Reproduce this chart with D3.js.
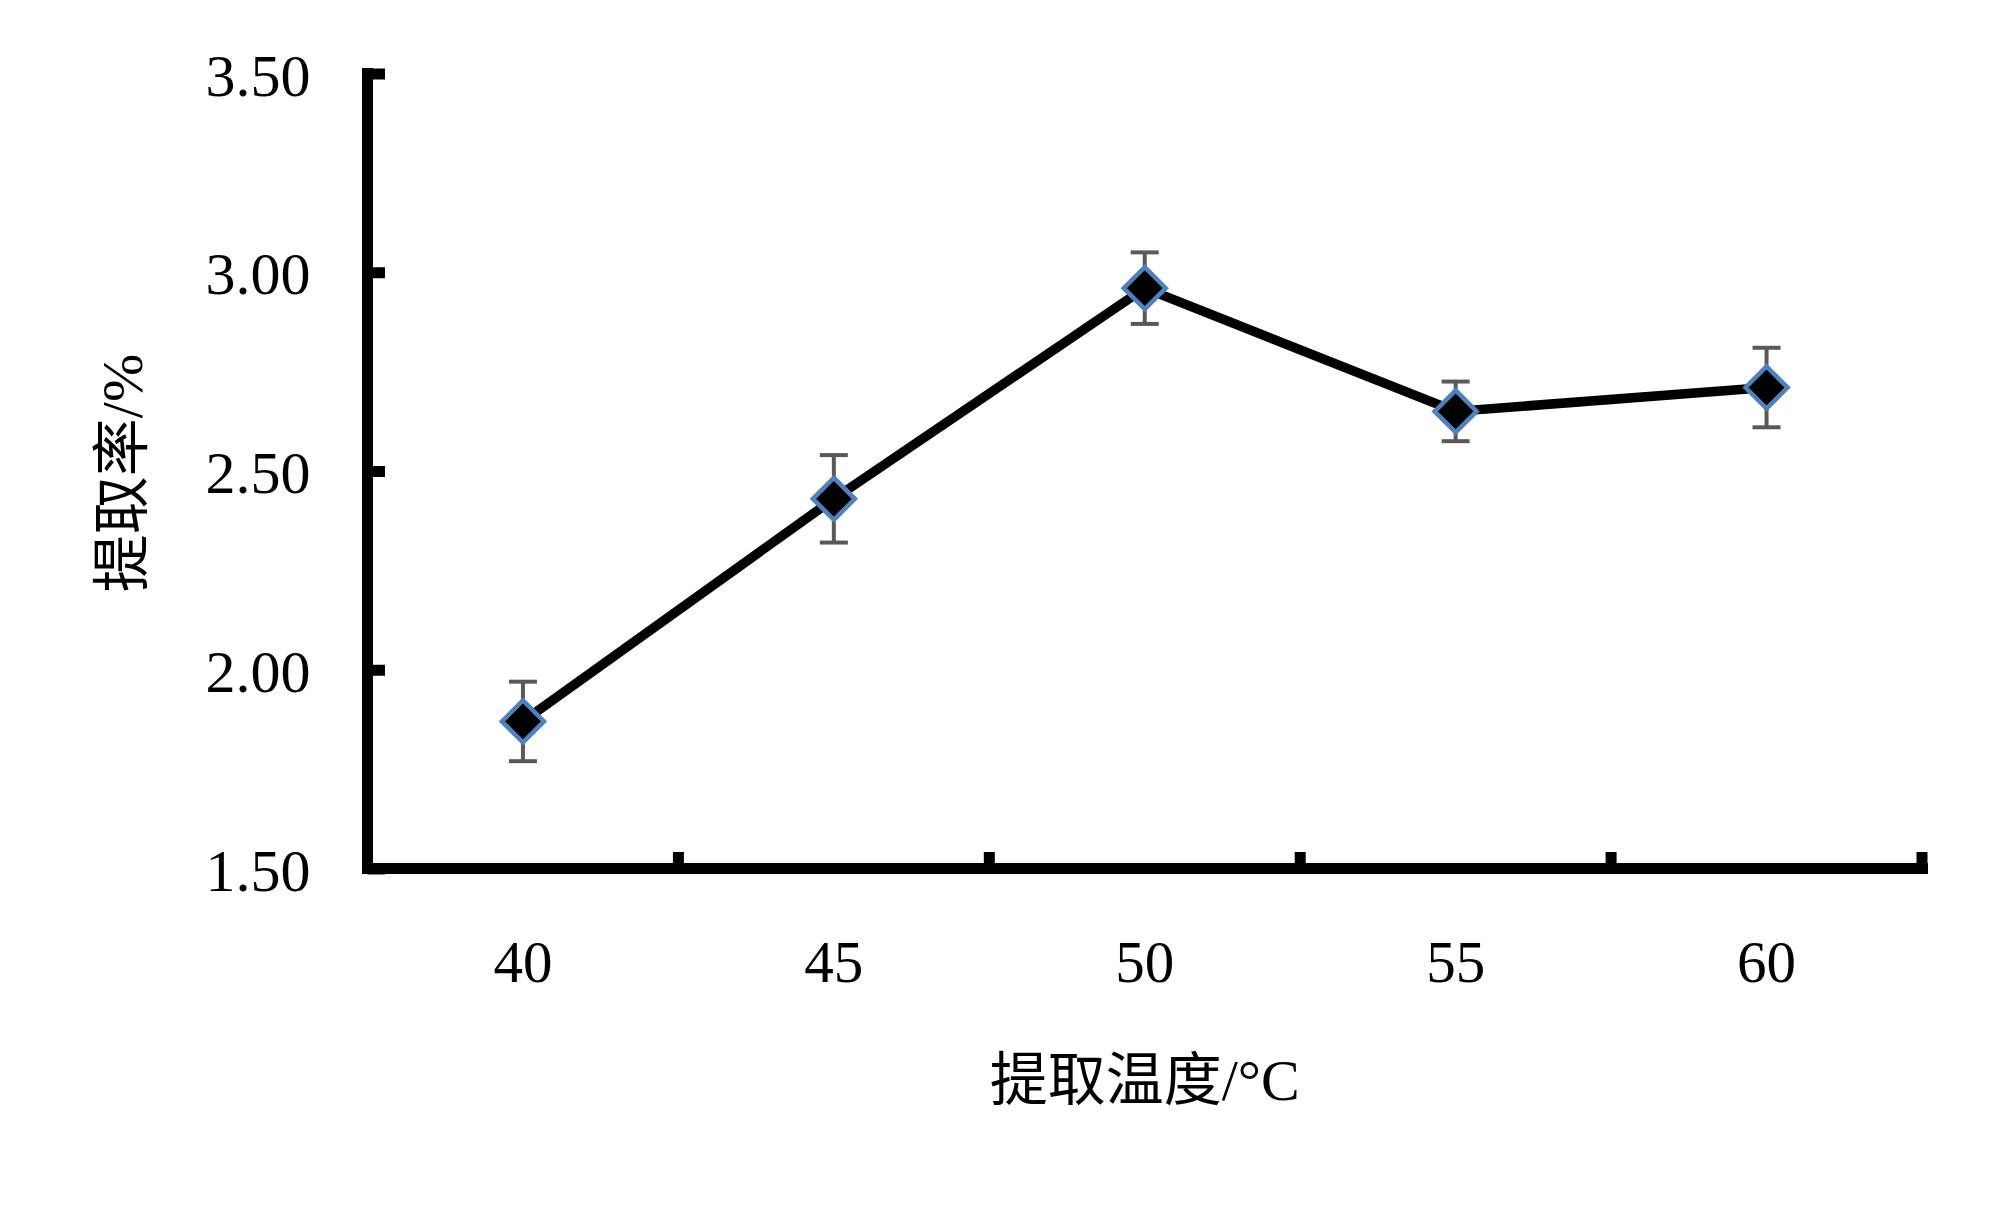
<!DOCTYPE html>
<html lang="zh">
<head>
  <meta charset="utf-8">
  <title>提取温度与提取率</title>
  <script src="https://d3js.org/d3.v7.min.js"></script>
  <style>
    html, body { margin: 0; padding: 0; background: #fff; }
    svg text { font-family: "Liberation Serif", "Times New Roman", "Noto Sans CJK SC", serif; fill: #000; }
  </style>
</head>
<body>
  <div id="chart"></div>
  <script>
    // data
    var temps = ["40", "45", "50", "55", "60"];
    var rates = [1.87, 2.43, 2.96, 2.65, 2.71];
    var errors = [0.10, 0.11, 0.09, 0.075, 0.10];
    var yTicks = [1.5, 2.0, 2.5, 3.0, 3.5];

    var width = 2000, height = 1210;
    var plotLeft = 367.5, plotRight = 1922, plotTop = 73.5, plotBottom = 868.5;
    var axisW = 11;

    var svg = d3.select("#chart")
      .append("svg")
      .attr("width", width)
      .attr("height", height);

    svg.append("rect").attr("width", width).attr("height", height).attr("fill", "#fff");

    var x = d3.scaleBand()
      .domain(temps)
      .range([plotLeft, plotRight])
      .padding(0);

    var y = d3.scaleLinear()
      .domain([1.5, 3.5])
      .range([plotBottom, plotTop]);

    var cx = function (d, i) { return x(temps[i]) + x.bandwidth() / 2; };

    // Y axis
    var yAxis = svg.append("g")
      .attr("transform", "translate(" + plotLeft + ",0)")
      .call(d3.axisLeft(y).tickValues(yTicks).tickSize(-17.5).tickPadding(0)
        .tickFormat(d3.format(".2f")));
    yAxis.select(".domain").remove();
    yAxis.selectAll(".tick line").attr("stroke", "#000").attr("stroke-width", axisW);
    yAxis.selectAll(".tick text")
      .attr("x", -57)
      .attr("dy", "0.36em")
      .style("font-size", "60px");

    // X axis labels
    var xAxis = svg.append("g")
      .attr("transform", "translate(0," + plotBottom + ")")
      .call(d3.axisBottom(x).tickSize(0).tickPadding(0));
    xAxis.select(".domain").remove();
    xAxis.selectAll(".tick text")
      .attr("y", 113)
      .attr("dy", 0)
      .style("font-size", "59px");

    // X ticks at category boundaries, pointing up
    svg.append("g").selectAll("line")
      .data(temps)
      .enter()
      .append("line")
      .attr("x1", function (d) { return x(d) + x.bandwidth(); })
      .attr("x2", function (d) { return x(d) + x.bandwidth(); })
      .attr("y1", plotBottom)
      .attr("y2", plotBottom - 16.5)
      .attr("stroke", "#000")
      .attr("stroke-width", axisW);

    // axis lines
    svg.append("line")
      .attr("x1", plotLeft).attr("x2", plotLeft)
      .attr("y1", plotTop - 5.5).attr("y2", plotBottom)
      .attr("stroke", "#000").attr("stroke-width", axisW);
    svg.append("line")
      .attr("x1", plotLeft - 5.5).attr("x2", plotRight + 6)
      .attr("y1", plotBottom).attr("y2", plotBottom)
      .attr("stroke", "#000").attr("stroke-width", axisW);

    // data line
    svg.append("path")
      .datum(rates)
      .attr("fill", "none")
      .attr("stroke", "#000")
      .attr("stroke-width", 9.5)
      .attr("stroke-linejoin", "round")
      .attr("d", d3.line()
        .x(function (d, i) { return cx(d, i); })
        .y(function (d) { return y(d); }));

    // error bars
    var eb = svg.append("g").attr("stroke", "#595959").attr("stroke-width", 4);
    rates.forEach(function (d, i) {
      var px = cx(d, i);
      eb.append("line")
        .attr("x1", px).attr("x2", px)
        .attr("y1", y(d - errors[i])).attr("y2", y(d + errors[i]));
      [d - errors[i], d + errors[i]].forEach(function (v) {
        eb.append("line")
          .attr("x1", px - 14).attr("x2", px + 14)
          .attr("y1", y(v)).attr("y2", y(v));
      });
    });

    // diamond markers
    var r = 21;
    svg.append("g").selectAll("path")
      .data(rates)
      .enter()
      .append("path")
      .attr("d", function (d, i) {
        var px = cx(d, i), py = y(d);
        return "M" + px + "," + (py - r) + "L" + (px + r) + "," + py +
          "L" + px + "," + (py + r) + "L" + (px - r) + "," + py + "Z";
      })
      .attr("fill", "#000")
      .attr("stroke", "#4f81bd")
      .attr("stroke-width", 4.5);

    // axis titles
    svg.append("text")
      .attr("x", (plotLeft + plotRight) / 2)
      .attr("y", 1100)
      .attr("text-anchor", "middle")
      .style("font-size", "58px")
      .text("提取温度/°C");

    svg.append("text")
      .attr("transform", "translate(142," + 473 + ") rotate(-90)")
      .attr("text-anchor", "middle")
      .style("font-size", "58px")
      .text("提取率/%");
  </script>
</body>
</html>
